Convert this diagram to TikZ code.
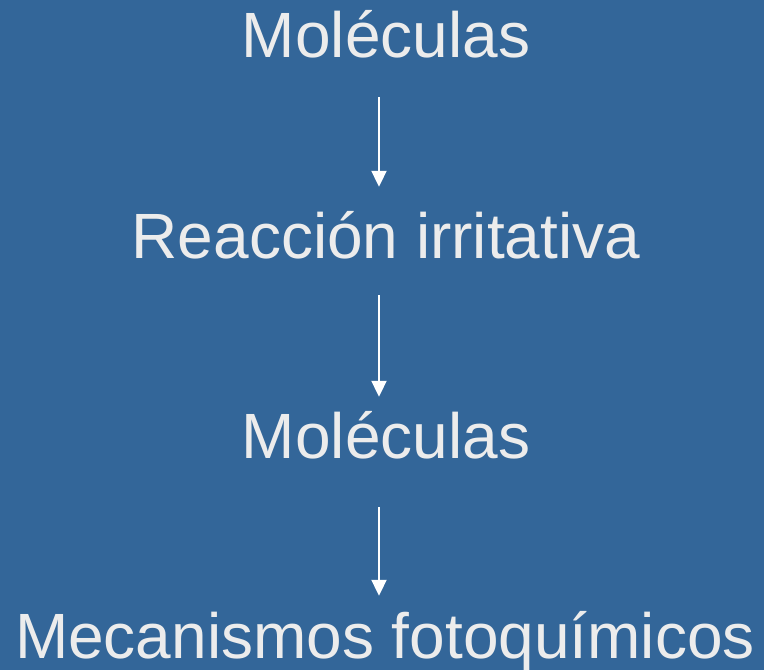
\documentclass[tikz,border=0pt]{standalone}
\usepackage{fontspec}
\setmainfont{Liberation Sans}
\usetikzlibrary{arrows.meta}

\definecolor{fondo}{RGB}{51,102,153}
\definecolor{texto}{RGB}{236,236,236}

\tikzset{
  etiqueta/.style={text=texto, inner sep=0pt, text height=46pt, text depth=0pt,
    font=\fontsize{64}{70}\selectfont},
  flecha/.style={draw=white, line width=2pt,
    -{Triangle[width=15pt,length=16pt]}}
}

\begin{document}
\begin{tikzpicture}[x=1pt,y=-1pt]
  \fill [fondo] (0,0) rectangle (764,670);
  \useasboundingbox (0,0) rectangle (764,670);

  \node [etiqueta, anchor=base] (M1) at (386,57) {Moléculas};
  \node [etiqueta, anchor=base] (R) at (386,258) {Reacción irritativa};
  \node [etiqueta, anchor=base] (M2) at (386,458) {Moléculas};
  \node [etiqueta, anchor=base] (F) at (385,658) {Mecanismos fotoquímicos};

  \draw [flecha, shorten <=40pt, shorten >=25pt]
    ([xshift=-7pt]M1.south) -- ([xshift=-7pt]R.north);
  \draw [flecha, shorten <=37pt, shorten >=15pt]
    ([xshift=-7pt]R.south) -- ([xshift=-7pt]M2.north);
  \draw [flecha, shorten <=49pt, shorten >=16pt]
    ([xshift=-7pt]M2.south) -- ([xshift=-6pt]F.north);
\end{tikzpicture}
\end{document}
